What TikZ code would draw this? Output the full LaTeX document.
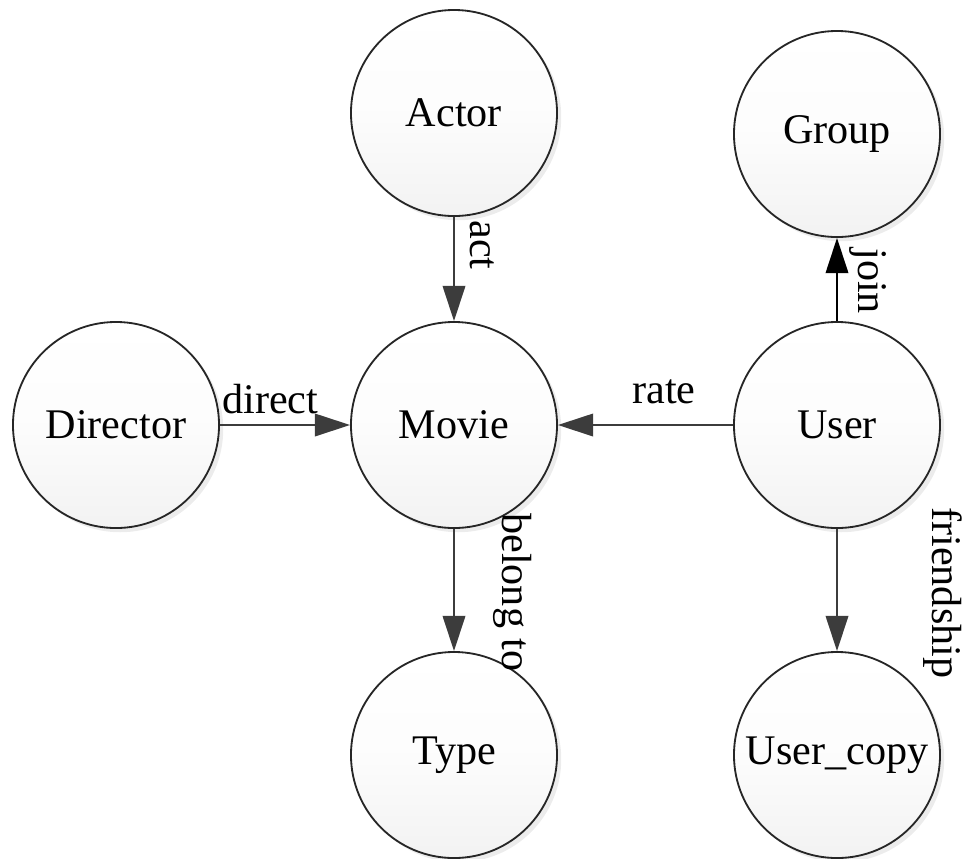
\documentclass[tikz,border=0pt]{standalone}
\usepackage{fontspec}
\setmainfont{Liberation Serif}
\usetikzlibrary{arrows.meta,shadows}
\definecolor{edgegray}{HTML}{3C3C3C}
\begin{document}
\begin{tikzpicture}[x=0.025cm,y=-0.025cm,
  entity/.style={circle, draw=black!85, line width=1.3pt, minimum size=5.15cm, inner sep=0pt,
    top color=white, bottom color=black!5, middle color=black!1,
    drop shadow={shadow xshift=3pt, shadow yshift=-3pt, opacity=0.12, fill=black!60},
    font=\fontsize{30}{36}\selectfont},
  rel/.style={draw=edgegray, line width=1.4pt, -{Triangle[length=25pt,width=16pt]}, edgegray},
  lbl/.style={inner sep=0pt, font=\fontsize{30}{36}\selectfont},
  vlbl/.style={lbl, rotate=-90, anchor=base west}]
\useasboundingbox (0,0) rectangle (969,858);
\node[entity] (actor) at (454,113) {Actor};
\node[entity] (group) at (837,134) {Group};
\node[entity] (director) at (116,425) {Director};
\node[entity] (movie) at (454,425) {Movie};
\node[entity] (user) at (837,425) {User};
\node[entity] (type) at (454,755) {Type};
\node[entity] (usercopy) at (837,755) {User\_copy};
\draw[rel] (actor) -- (movie);
\draw[rel] (director) -- (movie);
\draw[rel] (user) -- (movie);
\draw[rel, draw=black, -{Triangle[length=25pt,width=16pt]}, black] (user) -- (group);
\draw[rel] (movie) -- (type);
\draw[rel] (user) -- (usercopy);
\node[vlbl] (actlbl) at (470,220) {act};
\node[lbl, anchor=base west] (directlbl) at (222,413) {direct};
\node[lbl, anchor=base west] (ratelbl) at (632,403) {rate};
\node[vlbl] (joinlbl) at (858,248) {join};
\node[vlbl] (belonglbl) at (502,513) {belong to};
\node[vlbl] (friendlbl) at (932,507) {friendship};
\end{tikzpicture}
\end{document}
